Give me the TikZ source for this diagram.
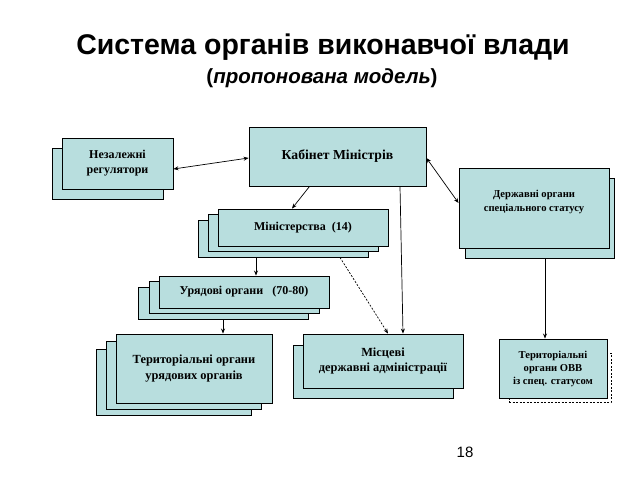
\documentclass[tikz,border=0pt]{standalone}
\usepackage{fontspec}
\setmainfont{Liberation Serif}
\newfontfamily\headfont{Liberation Sans}
\usetikzlibrary{arrows.meta}
\definecolor{boxfill}{RGB}{184,222,222}
\tikzset{
  panel/.style={draw=black, fill=boxfill, line width=0.9pt, inner sep=0pt, align=center,
    font=\bfseries},
  ghost/.style={draw=black, line width=0.9pt, inner sep=0pt, dash pattern=on 2pt off 1.5pt},
  link/.style={line width=0.7pt, -{Stealth[length=5pt,width=4pt]}},
  dlink/.style={line width=0.7pt, {Stealth[length=5pt,width=4pt]}-{Stealth[length=5pt,width=4pt]}},
  dashlink/.style={line width=0.7pt, dash pattern=on 2pt off 1.5pt, -{Stealth[length=5pt,width=4pt]}}
}
\begin{document}
\begin{tikzpicture}[x=1pt,y=-1pt]
\useasboundingbox (0,0) rectangle (638,479);
% title
\node[font=\headfont\bfseries\fontsize{28.5}{32}\selectfont, anchor=base] (title) at (323,54) {Система органів виконавчої влади};
\node[font=\headfont\bfseries\fontsize{20.5}{24}\selectfont, anchor=base] (subtitle) at (322,83) {(\textit{пропонована модель})};
% Незалежні регулятори
\node[panel, minimum width=111pt, minimum height=51pt] (nezb) at (107.5,173.5) {};
\node[panel, minimum width=111pt, minimum height=51pt, font=\bfseries\fontsize{12}{15}\selectfont] (nez) at (117.5,163.5) {Незалежні\\регулятори};
% Кабінет Міністрів
\node[panel, minimum width=177pt, minimum height=59pt, font=\bfseries\fontsize{13.7}{16}\selectfont] (kab) at (337.5,156.5) {Кабінет Міністрів};
% Державні органи спеціального статусу
\node[panel, minimum width=149pt, minimum height=80pt] (derb) at (539.5,218) {};
\node[panel, minimum width=150pt, minimum height=80pt] (der) at (534,208) {};
\node[font=\bfseries\fontsize{10.6}{14}\selectfont, align=center] (dert) at (534,202) {Державні органи\\спеціального статусу};
% Міністерства
\node[panel, minimum width=170pt, minimum height=37pt] (minc) at (283,238.5) {};
\node[panel, minimum width=170pt, minimum height=37pt] (minb) at (293,233) {};
\node[panel, minimum width=170pt, minimum height=37pt, font=\bfseries\fontsize{12}{14}\selectfont] (min) at (303,227.5) {Міністерства\enspace(14)};
% Урядові органи
\node[panel, minimum width=170pt, minimum height=32pt] (uryc) at (223,303) {};
\node[panel, minimum width=170pt, minimum height=32pt] (uryb) at (234,297) {};
\node[panel, minimum width=170pt, minimum height=32pt, font=\bfseries\fontsize{12}{14}\selectfont] (ury) at (244,292) {Урядові органи\enspace\ (70-80)};
% Територіальні органи урядових органів
\node[panel, minimum width=155pt, minimum height=66pt] (terc) at (173.5,382) {};
\node[panel, minimum width=155pt, minimum height=68pt] (terb) at (183.5,375) {};
\node[panel, minimum width=156pt, minimum height=69pt, font=\bfseries\fontsize{12.4}{16}\selectfont] (ter) at (194,368.5) {Територіальні органи\\урядових органів};
% Місцеві державні адміністрації
\node[panel, minimum width=160pt, minimum height=53pt] (misb) at (373,371.5) {};
\node[panel, minimum width=160pt, minimum height=54pt, font=\bfseries\fontsize{12.4}{14.5}\selectfont] (mis) at (383,361) {Місцеві\\державні адміністрації};
% Територіальні органи ОВВ
\node[ghost, minimum width=102pt, minimum height=49pt] (ovvb) at (560,377.5) {};
\node[panel, minimum width=108pt, minimum height=59pt, font=\bfseries\fontsize{10.6}{13}\selectfont] (ovv) at (553,368.5) {Територіальні\\органи ОВВ\\із спец. статусом};
% page number
\node[font=\headfont\fontsize{15}{17}\selectfont] (num) at (465,452) {18};
% connectors
\draw[dlink] ([yshift=-5.5pt]nez.east) -- ([yshift=-1.5pt]kab.west);
\draw[dlink] ([yshift=-1.5pt]kab.east) -- ([yshift=5pt]der.west);
\draw[link] ([xshift=-28pt]kab.south) -- ([xshift=-11pt]min.north);
\draw[link] ([xshift=62.5pt]kab.south) -- ([xshift=20pt]mis.north);
\draw[link] ([xshift=-27pt]minc.south) -- ([xshift=12pt]ury.north);
\draw[dashlink] ([xshift=57pt]minc.south) -- ([xshift=5pt]mis.north);
\draw[link] (uryc.south) -- ([xshift=29pt]ter.north);
\draw[link] ([xshift=5.5pt]derb.south) -- ([xshift=-8pt]ovv.north);
\end{tikzpicture}
\end{document}
